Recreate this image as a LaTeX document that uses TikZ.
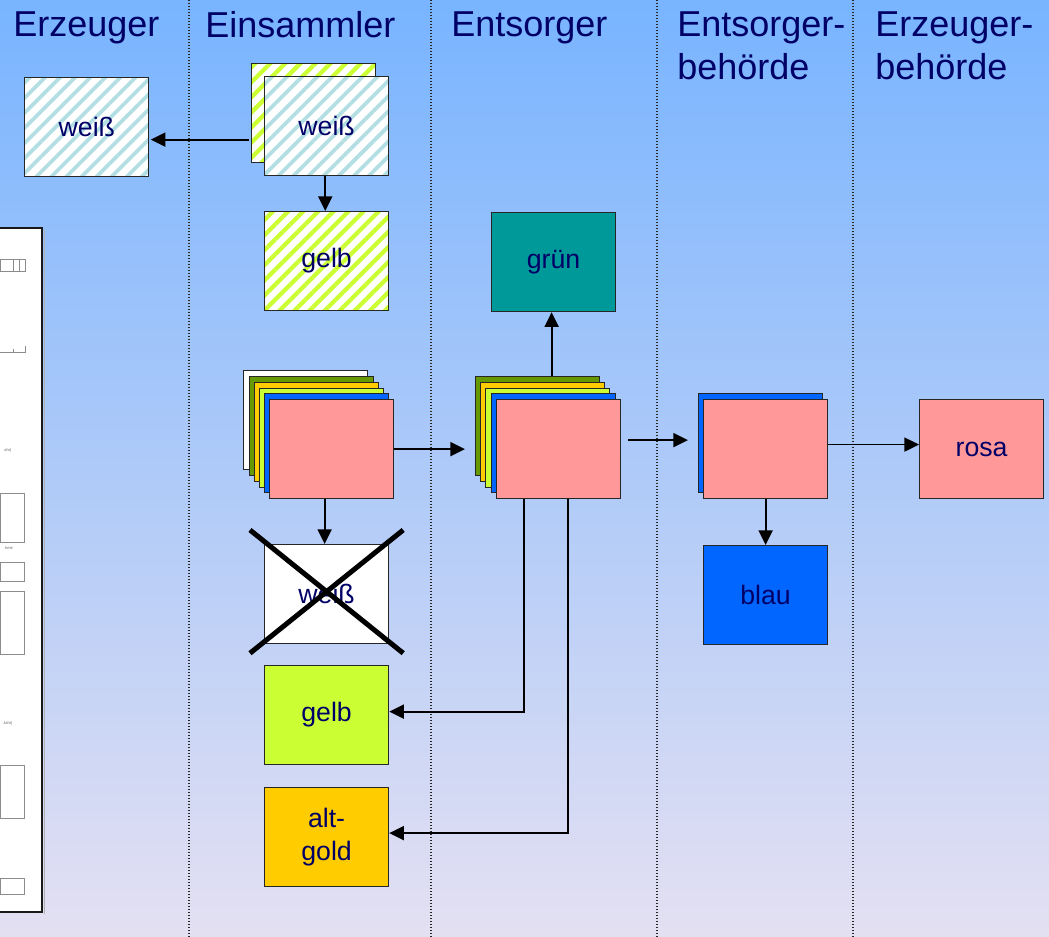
\documentclass[tikz,border=0pt]{standalone}
\usepackage{fontspec}
\setmainfont{Liberation Sans}
\usetikzlibrary{arrows.meta,patterns.meta,calc}
\definecolor{navy}{RGB}{0,0,102}
\definecolor{bgtop}{RGB}{120,180,255}
\definecolor{bgbot}{RGB}{228,224,242}
\definecolor{pinkc}{RGB}{255,153,153}
\definecolor{olivec}{RGB}{102,153,0}
\definecolor{goldc}{RGB}{255,204,0}
\definecolor{limec}{RGB}{204,255,51}
\definecolor{bluec}{RGB}{0,102,255}
\definecolor{tealc}{RGB}{0,153,153}
\definecolor{cyanstripe}{RGB}{178,222,228}
\begin{document}
\begin{tikzpicture}[x=0.75pt,y=-0.75pt,
  card/.style={draw=black!85, line width=0.9pt, anchor=north west,
    minimum width=93pt, minimum height=74.25pt, inner sep=0pt,
    text=navy, font=\fontsize{20}{24.75}\selectfont, align=center},
  wstripe/.style={preaction={fill=white},
    pattern={Lines[angle=45,distance=8pt,line width=2.8pt]}, pattern color=cyanstripe},
  gstripe/.style={preaction={fill=white},
    pattern={Lines[angle=45,distance=8pt,line width=3.2pt]}, pattern color=limec},
  hdr/.style={anchor=north west, inner sep=0pt, text=navy,
    font=\fontsize{27}{32.25}\selectfont, align=left},
  arr/.style={draw=black, line width=1.4pt, -{Triangle[length=11pt,width=10.5pt]}},
  crossline/.style={draw=black, line width=3.75pt},
  divider/.style={draw=black!85, line width=0.9pt, dash pattern=on 0.9pt off 1.35pt},
  faint/.style={draw=black!45, line width=0.45pt},
  tinytext/.style={inner sep=0pt, text=black!60, font=\fontsize{3}{3.5}\selectfont}]

% background
\shade[top color=bgtop, bottom color=bgbot] (0,0) rectangle (1049,937);
\useasboundingbox (0,0) rectangle (1049,937);

% column dividers
\draw[divider] (189,0) -- (189,937);
\draw[divider] (431,0) -- (431,937);
\draw[divider] (657,0) -- (657,937);
\draw[divider] (853,0) -- (853,937);

% headers
\node[hdr] (h1) at (13,11) {Erzeuger};
\node[hdr] (h2) at (205,11) {Einsammler};
\node[hdr] (h3) at (451,11) {Entsorger};
\node[hdr] (h4) at (677,11) {Entsorger-\\behörde};
\node[hdr] (h5) at (875,11) {Erzeuger-\\behörde};

% document page at the left edge
\fill[white] (-2,228) rectangle (42,912);
\draw[black!90, line width=0.8pt] (-2,228) -- (42,228) -- (42,912) -- (-2,912);
\draw[black!30, line width=0.6pt] (44,230) -- (44,914);
\draw[faint] (0,259) rectangle (25,271);
\draw[faint] (13,259) -- (13,271);
\draw[faint] (19,259) -- (19,271);
\draw[faint] (0,352) -- (25,352) -- (25,346);
\draw[faint] (13,352) -- (13,349);
\node[tinytext] (t1) at (8,450) {ahr)};
\draw[faint] (0,493) rectangle (24,542);
\node[tinytext] (t2) at (9,548) {hme};
\draw[faint] (0,562) rectangle (24,581);
\draw[faint] (0,591) rectangle (24,654);
\node[tinytext] (t3) at (8,723) {Jahr)};
\draw[faint] (0,765) rectangle (24,818);
\draw[faint] (0,878) rectangle (24,894);

% Erzeuger
\node[card, wstripe] (ew) at (23,76) {weiß};

% Einsammler top
\node[card, gstripe] (swb) at (249,61) {};
\node[card, wstripe] (swf) at (264,76) {weiß};
\node[card, gstripe] (sg) at (264,211) {gelb};

% Entsorger top
\node[card, fill=tealc] (gr) at (491,212) {grün};

% Einsammler stack
\node[card, fill=white] (l1) at (243,370) {};
\node[card, fill=olivec] (l2) at (249,376) {};
\node[card, fill=goldc] (l3) at (254,382) {};
\node[card, fill=limec] (l4) at (259,388) {};
\node[card, fill=bluec] (l5) at (264,393) {};
\node[card, fill=pinkc] (lp) at (269,399) {};

% Entsorger stack
\node[card, fill=olivec] (r1) at (475,376) {};
\node[card, fill=goldc] (r2) at (480,382) {};
\node[card, fill=limec] (r3) at (485,388) {};
\node[card, fill=bluec] (r4) at (491,393) {};
\node[card, fill=pinkc] (rp) at (496,399) {};

% Entsorgerbehoerde stack
\node[card, fill=bluec] (e1) at (698,393) {};
\node[card, fill=pinkc] (ep) at (703,399) {};
\node[card, fill=bluec] (bl) at (703,545) {blau};

% Erzeugerbehoerde
\node[card, fill=pinkc] (ro) at (919,399) {rosa};

% Einsammler lower boxes
\node[card, fill=white] (cx) at (264,544) {weiß};
\node[card, fill=limec] (g2) at (264,665) {gelb};
\node[card, fill=goldc] (ag) at (264,787) {alt-\\gold};

% cross
\draw[crossline] ($(cx.north west)+(-14,-14)$) -- ($(cx.south east)+(14,9)$);
\draw[crossline] ($(cx.north east)+(14,-14)$) -- ($(cx.south west)+(-14,9)$);

% connectors
\coordinate (a1) at ($(swb.west)+(0,27)$);
\draw[arr] (a1) -- (a1 -| ew.east);
\draw[arr] ([xshift=-1pt]swf.south) -- ([xshift=-1pt]swf.south |- sg.north);
\draw[arr] ([xshift=-1.5pt]gr.south |- r1.north) -- ([xshift=-1.5pt]gr.south);
\draw[arr, shorten >=7.5pt] (lp.east) -- (lp.east -| r1.west);
\draw[arr, shorten <=5pt, shorten >=7.5pt] ([yshift=6.75pt]rp.east) -- ([yshift=6.75pt]rp.east -| e1.west);
\draw[arr] ([yshift=3.4pt]ep.east) -- ([yshift=3.4pt]ep.east -| ro.west);
\draw[arr] (ep.south) -- (bl.north);
\draw[arr] ([xshift=-1.5pt]cx.north |- lp.south) -- ([xshift=-1.5pt]cx.north);
\draw[arr] ([xshift=-26.25pt]rp.south) |- ([yshift=2.6pt]g2.east);
\draw[arr] ([xshift=6.75pt]rp.south) |- ([yshift=3pt]ag.east);
\end{tikzpicture}
\end{document}
